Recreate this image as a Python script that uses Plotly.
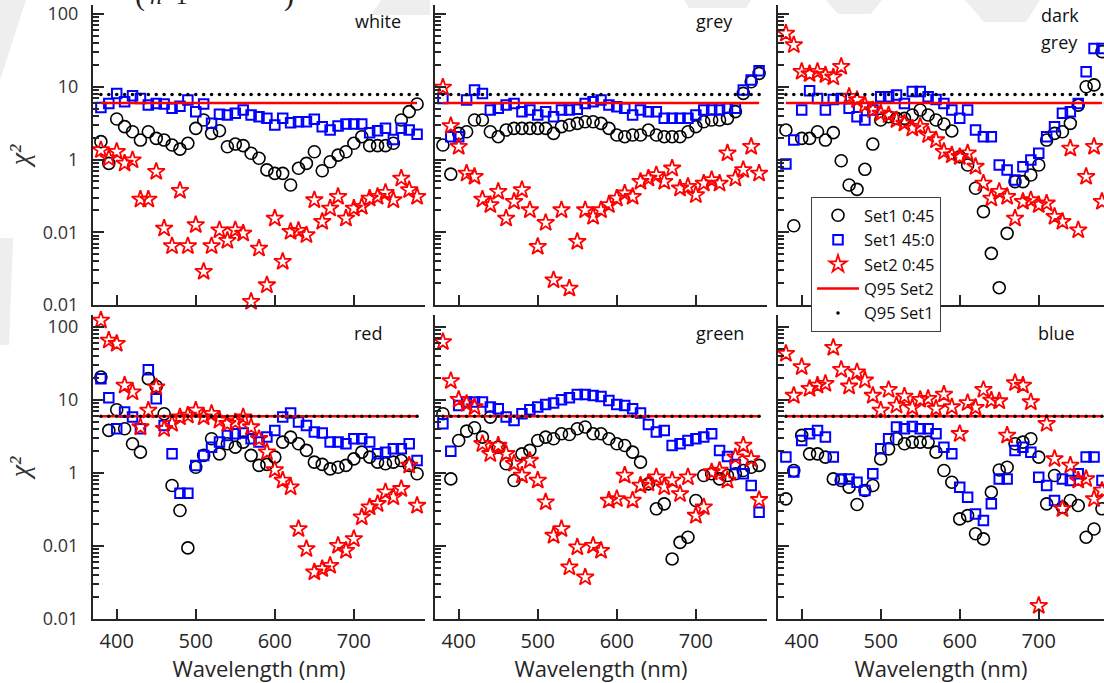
import plotly.graph_objects as go

W, H = 1104, 683

# Wavelength grid (nm)
wavelength = [380, 390, 400, 410, 420, 430, 440, 450, 460, 470, 480, 490, 500, 510,
              520, 530, 540, 550, 560, 570, 580, 590, 600, 610, 620, 630, 640, 650,
              660, 670, 680, 690, 700, 710, 720, 730, 740, 750, 760, 770, 780]

# ---- white ----
white_set1_045 = [1.76, 0.885, 3.6, 2.83, 2.41, 1.85, 2.41, 1.95, 1.85, 1.58, 1.39, 1.67, 2.68, 3.49,
                  2.29, 2.49, 1.50, 1.63, 1.55, 1.22, 1.04, 0.72, 0.645, 0.645, 0.446, 0.757, 0.885,
                  1.28, 0.70, 0.93, 1.15, 1.28, 1.67, 2.06, 1.55, 1.55, 1.55, 1.67, 3.49, 4.55, 5.8]
white_set1_450 = [5.2, 5.9, 8.1, 6.2, 7.5, 6.9, 5.6, 5.9, 5.8, 5.05, 5.4, 6.6, 4.55, 5.8, 3.14, 4.18,
                  4.09, 4.31, 4.79, 4.09, 3.88, 3.68, 2.98, 3.68, 3.21, 3.31, 3.31, 3.57, 2.83, 2.54,
                  2.89, 3.08, 3.08, 3.08, 2.34, 2.49, 2.68, 1.89, 2.68, 2.54, 2.22]
white_set2_045 = [1.35, 1.04, 1.28, 0.885, 0.98, 0.283, 0.283, 0.68, 0.113, 0.0647, 0.373, 0.0647,
                  0.126, 0.0287, 0.0647, 0.107, 0.0766, 0.107, 0.0966, 0.0111, 0.060, 0.0188, 0.155,
                  0.0394, 0.102, 0.105, 0.0916, 0.277, 0.14, 0.213, 0.308, 0.155, 0.213, 0.225, 0.292,
                  0.308, 0.35, 0.277, 0.55, 0.381, 0.308]

# ---- grey ----
grey_set1_045 = [1.58, 0.63, 2.29, 2.41, 3.49, 3.49, 2.41, 2.06, 2.54, 2.68, 2.68, 2.68, 2.68, 2.68,
                 2.29, 2.83, 2.98, 3.14, 3.31, 3.31, 3.14, 2.68, 2.17, 2.06, 2.17, 2.17, 2.54, 2.17,
                 2.06, 2.06, 2.06, 2.41, 2.83, 3.31, 3.49, 3.49, 3.68, 4.55, 8.1, 11.7, 15.3]
grey_set1_450 = [6.9, 2.06, 2.06, 6.6, 9.0, 8.1, 4.79, 5.05, 5.6, 5.9, 4.55, 4.79, 4.09, 4.55, 3.88,
                 4.79, 4.79, 4.9, 5.9, 6.2, 6.6, 5.6, 5.3, 5.05, 4.09, 4.79, 4.55, 4.55, 3.68, 3.68,
                 3.68, 3.68, 4.09, 4.79, 4.79, 4.79, 5.05, 5.05, 9.0, 12.4, 16.6]
grey_set2_045 = [9.8, 2.89, 1.50, 0.645, 0.58, 0.283, 0.237, 0.361, 0.155, 0.263, 0.381, 0.202, 0.0634,
                 0.135, 0.022, 0.202, 0.0169, 0.0743, 0.202, 0.164, 0.202, 0.237, 0.292, 0.343, 0.308,
                 0.496, 0.55, 0.612, 0.496, 0.757, 0.402, 0.424, 0.325, 0.47, 0.523, 0.47, 1.22, 0.55,
                 0.72, 1.5, 0.645]

# ---- dark grey ----
dark_set1_045 = [2.54, 0.123, 1.95, 1.95, 2.41, 1.85, 2.34, 0.96, 0.446, 0.389, 0.733, 1.63, 3.49,
                 3.88, 3.68, 3.68, 4.09, 4.79, 4.09, 3.49, 3.08, 2.47, 1.09, 0.84, 0.402, 0.192, 0.0513,
                 0.0173, 0.0966, 0.496, 0.496, 0.612, 0.84, 1.85, 2.29, 2.41, 3.14, 5.6, 10.0, 10.6, 30.4]
dark_set1_450 = [0.867, 1.85, 4.79, 8.8, 6.9, 4.79, 6.7, 6.9, 5.05, 3.88, 3.49, 4.79, 7.3, 7.3, 7.7,
                 5.9, 8.6, 8.6, 7.3, 6.7, 5.9, 4.79, 3.68, 4.79, 2.54, 2.06, 2.06, 0.84, 0.718, 0.523,
                 0.797, 0.984, 1.22, 2.06, 2.83, 4.31, 4.55, 5.9, 16.1, 33.7, 33.7]
dark_set2_045 = [54, 37.5, 16.1, 15.0, 16.1, 14.5, 13.5, 18.9, 7.3, 6.6, 5.6, 4.79, 4.31, 4.09, 3.49,
                 3.14, 2.68, 2.83, 2.17, 1.85, 1.28, 1.15, 1.09, 1.22, 0.8, 0.47, 0.292, 0.361, 0.308,
                 0.155, 0.263, 0.277, 0.237, 0.25, 0.164, 0.14, 1.42, 0.107, 0.58, 1.5, 0.263]

# ---- red ----
red_set1_045 = [20.6, 3.83, 7.35, 4.03, 2.51, 1.93, 19.6, 15.4, 6.48, 0.674, 0.306, 0.0942, 1.2, 1.74,
                2.94, 1.83, 2.51, 2.26, 2.65, 1.74, 1.27, 1.31, 1.65, 2.65, 3.1, 2.51, 2.04, 1.41, 1.31,
                1.14, 1.2, 1.27, 1.56, 1.93, 1.65, 1.41, 1.34, 1.41, 1.48, 1.27, 0.975]
red_set1_450 = [19.6, 10.7, 4.03, 6.83, 5.83, 4.03, 26.0, 10.4, 4.48, 1.83, 0.529, 0.529, 1.27, 1.74,
                2.26, 2.65, 3.27, 3.44, 3.52, 2.94, 2.65, 3.1, 3.83, 5.83, 6.62, 4.98, 4.48, 3.63, 3.52,
                2.65, 2.65, 2.51, 2.94, 2.94, 2.65, 1.83, 1.93, 2.14, 2.14, 2.51, 1.48]
red_set2_045 = [123, 65.6, 59.1, 15.8, 12.8, 4.26, 7.2, 15.0, 4.03, 4.72, 5.83, 6.15, 7.2, 5.83, 6.48,
                5.25, 4.72, 4.98, 5.83, 4.26, 2.94, 1.93, 1.1, 0.79, 0.64, 0.171, 0.0912, 0.0437, 0.0485,
                0.0539, 0.101, 0.0865, 0.125, 0.248, 0.34, 0.378, 0.546, 0.466, 0.607, 1.27, 0.358]

# ---- green ----
green_set1_045 = [6.48, 0.83, 2.79, 3.75, 4.16, 3.1, 5.83, 2.26, 1.34, 0.79, 1.83, 2.04, 2.79, 3.1,
                  2.94, 3.44, 3.37, 4.03, 4.26, 3.44, 3.44, 2.94, 2.51, 2.38, 1.93, 1.41, 0.71, 0.323,
                  0.378, 0.0665, 0.112, 0.132, 0.42, 0.925, 0.975, 0.83, 0.925, 0.975, 1.08, 1.2, 1.27]
green_set1_450 = [4.72, 1.99, 8.43, 9.36, 9.36, 9.36, 8.0, 7.59, 5.83, 5.25, 6.48, 7.35, 8.0, 8.7, 9.1,
                  10.1, 10.7, 11.9, 11.9, 11.5, 11.2, 9.87, 8.7, 8.43, 7.59, 6.62, 4.62, 3.63, 3.83,
                  2.38, 2.51, 2.79, 2.94, 3.1, 3.44, 2.04, 1.68, 1.31, 0.975, 0.674, 0.29]
green_set2_045 = [62.3, 18.2, 10.1, 8.9, 8.0, 2.51, 1.83, 2.38, 1.83, 1.34, 0.925, 1.48, 0.79, 0.398,
                  0.139, 0.171, 0.0511, 0.0962, 0.0373, 0.101, 0.0865, 0.42, 0.442, 0.925, 0.42, 0.674,
                  0.725, 0.877, 0.64, 0.79, 0.518, 0.877, 0.261, 0.34, 1.03, 1.08, 0.79, 1.65, 2.38,
                  1.56, 0.429]

# ---- blue ----
blue_set1_045 = [0.442, 1.08, 3.27, 1.83, 1.83, 1.65, 0.83, 0.79, 0.64, 0.37, 0.575, 0.674, 1.56, 2.14,
                 2.94, 2.51, 2.65, 2.65, 2.65, 1.93, 1.08, 0.748, 0.235, 0.261, 0.147, 0.125, 0.546,
                 1.1, 1.2, 2.51, 2.65, 2.94, 1.65, 0.378, 0.925, 0.34, 0.42, 0.358, 0.132, 0.171, 0.323]
blue_set1_450 = [1.65, 1.03, 2.79, 3.44, 3.83, 3.1, 1.65, 0.83, 0.83, 0.748, 0.575, 0.975, 2.14, 2.94,
                 4.26, 4.03, 4.34, 4.03, 4.03, 3.44, 2.26, 1.83, 0.64, 0.466, 0.275, 0.223, 0.378, 0.83,
                 0.83, 2.04, 2.26, 1.93, 0.877, 0.674, 0.42, 0.83, 0.79, 0.975, 1.65, 1.65, 0.79]
blue_set2_045 = [43.1, 11.5, 28.3, 14.3, 15.8, 16.7, 52.1, 26.0, 15.4, 24.1, 18.6, 11.5, 7.2, 13.8,
                 8.43, 11.2, 7.83, 10.1, 10.4, 7.59, 11.9, 8.0, 3.44, 9.1, 7.83, 13.8, 9.87, 9.66, 3.27,
                 17.1, 15.8, 9.36, 0.0152, 4.72, 1.56, 0.323, 1.27, 0.79, 0.83, 0.442, 0.575]

# 95th-percentile chi-square thresholds
q95_set2_top = 5.99
q95_set1_top = 7.81
q95_set2_bottom = 5.99
q95_set1_bottom = 5.99

series_names = ["Set1 0:45", "Set1 45:0", "Set2 0:45", "Q95 Set2", "Q95 Set1"]
x_ticks = [400, 500, 600, 700]
x_tick_labels = ["400", "500", "600", "700"]
y_ticks = [0.01, 0.1, 1, 10, 100]
y_tick_labels = ["0.01", "0.01", "1", "10", "100"]
y_minor_ticks = [m * 10.0 ** e for e in (-2, -1, 0, 1, 2) for m in range(2, 10)]

panels = [
    (white_set1_045, white_set1_450, white_set2_045, q95_set2_top, q95_set1_top),
    (grey_set1_045, grey_set1_450, grey_set2_045, q95_set2_top, q95_set1_top),
    (dark_set1_045, dark_set1_450, dark_set2_045, q95_set2_top, q95_set1_top),
    (red_set1_045, red_set1_450, red_set2_045, q95_set2_bottom, q95_set1_bottom),
    (green_set1_045, green_set1_450, green_set2_045, q95_set2_bottom, q95_set1_bottom),
    (blue_set1_045, blue_set1_450, blue_set2_045, q95_set2_bottom, q95_set1_bottom),
]

# ---- layout geometry (pixels of the 1104 x 683 canvas) ----
col_px = [(93, 425), (435, 767), (778, 1104)]
col_range = [[370, 790], [370, 790], [370, 782.6]]
row_px = [(5, 305), (315, 619)]
row_range = [[-2, 2.124], [-2, 2.164]]

AX = "#262626"
TXT = "#262626"
FONT = "Open Sans"
SERIF = "Liberation Serif"


def fx(p):
    return p / W


def fy(p):
    return 1 - p / H


fig = go.Figure()
layout = {}

for k, (s1a, s1b, s2, q2, q1) in enumerate(panels):
    row, col = divmod(k, 3)
    sfx = "" if k == 0 else str(k + 1)
    xname, yname = "x" + sfx, "y" + sfx
    show = k == 0
    common = dict(xaxis=xname, yaxis=yname, cliponaxis=False)

    fig.add_trace(go.Scatter(
        x=wavelength, y=s1a, mode="markers", name=series_names[0], showlegend=show,
        marker=dict(symbol="circle-open", size=12, color="#000000", line=dict(width=1.6)), **common))
    fig.add_trace(go.Scatter(
        x=wavelength, y=s1b, mode="markers", name=series_names[1], showlegend=show,
        marker=dict(symbol="square-open", size=9.5, color="#0000ff", line=dict(width=2)), **common))
    fig.add_trace(go.Scatter(
        x=wavelength, y=s2, mode="markers", name=series_names[2], showlegend=show,
        marker=dict(symbol="star-open", size=13, color="#ff0000", line=dict(width=1.8)), **common))
    fig.add_trace(go.Scatter(
        x=wavelength, y=[q2] * len(wavelength), mode="lines", name=series_names[3], showlegend=show,
        line=dict(color="#ff0000", width=2.5), **common))
    fig.add_trace(go.Scatter(
        x=wavelength, y=[q1] * len(wavelength), mode="markers", name=series_names[4], showlegend=show,
        marker=dict(symbol="circle", size=3.5, color="#000000"), **common))

    x0, x1 = col_px[col]
    y0, y1 = row_px[row]
    xaxis = dict(
        domain=[fx(x0), fx(x1)], range=col_range[col], anchor=yname,
        showline=True, linecolor=AX, linewidth=2, mirror=False,
        ticks="inside", ticklen=10, tickwidth=2, tickcolor=AX,
        tickmode="array", tickvals=x_ticks, ticktext=x_tick_labels,
        showticklabels=(row == 1), ticklabelstandoff=3,
        tickfont=dict(family=FONT, size=20, color=TXT),
        showgrid=False, zeroline=False, automargin=False,
    )
    if row == 1:
        xaxis["title"] = dict(text="Wavelength (nm)", standoff=5,
                              font=dict(family=FONT, size=22, color=TXT))
    yaxis = dict(
        domain=[fy(y1), fy(y0)], range=row_range[row], type="log", anchor=xname,
        showline=True, linecolor=AX, linewidth=2, mirror=False,
        ticks="inside", ticklen=11, tickwidth=2, tickcolor=AX,
        tickmode="array", tickvals=y_ticks, ticktext=y_tick_labels,
        showticklabels=(col == 0), ticklabelstandoff=9,
        tickfont=dict(family=FONT, size=18, color="#333333"),
        minor=dict(tickmode="array", tickvals=y_minor_ticks, ticks="inside",
                   ticklen=6, tickwidth=1.5, tickcolor=AX, showgrid=False),
        showgrid=False, zeroline=False, automargin=False,
    )
    if col == 0:
        yaxis["title"] = dict(text="<i>χ²</i>", standoff=5,
                              font=dict(family=SERIF, size=28, color="#333333"))
    layout["xaxis" + sfx] = xaxis
    layout["yaxis" + sfx] = yaxis

# panel names
annotations = []
label_pos = [(378, 21, "center", "white"), (714, 21, "center", "grey"),
             (1039, 15, "left", "dark"), (1039, 42, "left", "grey"),
             (368, 333, "center", "red"), (720, 333, "center", "green"),
             (1056, 333, "center", "blue")]
for px, py, anchor, text in label_pos:
    annotations.append(dict(x=fx(px), y=fy(py), xref="paper", yref="paper", text=text,
                            showarrow=False, xanchor=anchor, yanchor="middle",
                            font=dict(family=FONT, size=18, color="#111111")))

# lower edge of the equation set above the figure (runs off the top of the canvas)
for px, py, text, size in [(140, 14, "(", 30), (169, 11, "<i>n</i>=1", 24), (289, 14, ")", 30)]:
    annotations.append(dict(x=fx(px), y=fy(py), xref="paper", yref="paper", text=text,
                            showarrow=False, xanchor="center", yanchor="bottom",
                            font=dict(family=SERIF, size=size, color="#222222")))

# faint background print-through, drawn beneath everything
ghost = [
    [(0, 0), (26, 0), (0, 80)],
    [(0, 238), (13, 238), (9, 345), (0, 345)],
    [(371, 15), (381, 0), (430, 0), (430, 15)],
    [(684, 0), (751, 0), (746, 8), (689, 8)],
    [(826, 0), (882, 0), (871, 14), (838, 14)],
    [(965, 0), (1040, 0), (1026, 22), (984, 22)],
]
shapes = []
for poly in ghost:
    path = "M " + " L ".join(f"{fx(a):.5f},{fy(b):.5f}" for a, b in poly) + " Z"
    shapes.append(dict(type="path", xref="paper", yref="paper", path=path,
                       fillcolor="#eeeeee", line=dict(width=0), layer="below"))

fig.update_layout(
    width=W, height=H,
    margin=dict(l=0, r=0, t=0, b=0),
    paper_bgcolor="white", plot_bgcolor="rgba(0,0,0,0)",
    showlegend=True,
    legend=dict(x=fx(811), y=fy(197), xanchor="left", yanchor="top",
                bgcolor="white", bordercolor="#404040", borderwidth=1,
                font=dict(family=FONT, size=16.5, color="#111111"),
                itemwidth=42, tracegroupgap=0),
    annotations=annotations,
    shapes=shapes,
    **layout,
)

fig.write_html("out.html")
